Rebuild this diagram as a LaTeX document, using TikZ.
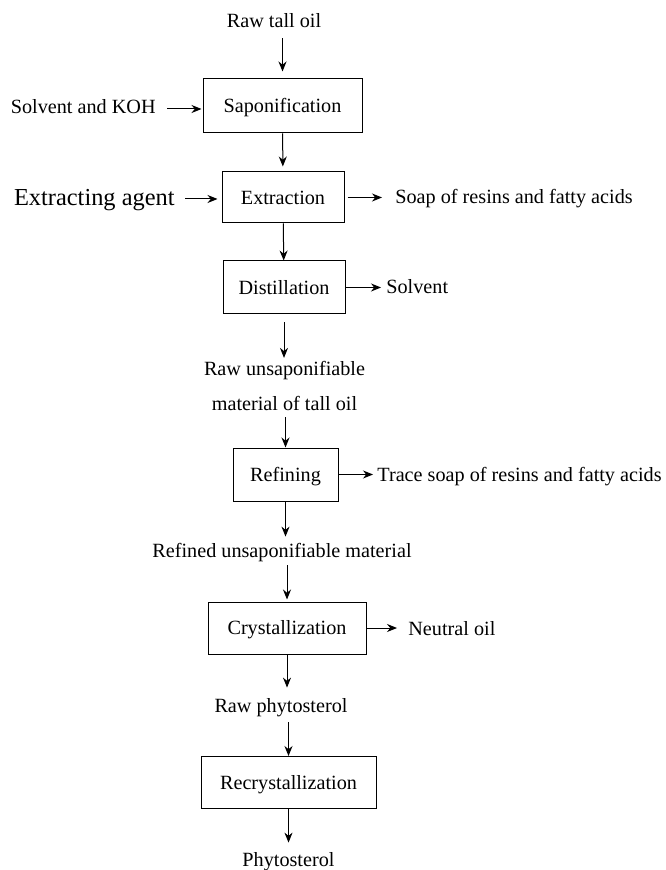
\documentclass[tikz,border=0pt]{standalone}
\usepackage{fontspec}
\setmainfont{Liberation Serif}
\usetikzlibrary{arrows.meta}
\newcommand{\flowfont}{\fontsize{10.1}{17.5}\selectfont}
\tikzstyle{stepbox} = [draw,line width=0.5pt,inner sep=0pt,text centered,text height=8pt,text depth=1.3pt,font=\flowfont]
\tikzstyle{stream} = [inner sep=0pt,text height=7pt,text depth=2pt,font=\flowfont]
\tikzstyle{flow} = [line width=0.5pt,-{Stealth[length=5pt,width=4pt]}]

\begin{document}
\begin{tikzpicture}[x=0.5pt,y=-0.5pt]
		\useasboundingbox (0,0) rectangle (665,870);
		\node [stream](oil) at (274,23){Raw tall oil};
		\node [stepbox,minimum width=79.5pt,minimum height=27pt](sap) at (282.5,106){Saponification};
		\node [stream,anchor=east](koh) at (156,109){Solvent and KOH};
		\node [stepbox,minimum width=61pt,minimum height=25.5pt](ext) at (283,197.5){Extraction};
		\node [stream,anchor=east,text height=8.5pt,text depth=2.4pt,font=\fontsize{12.2}{14}\selectfont](agent) at (175,199){Extracting agent};
		\node [stream,anchor=west](soap) at (395,199){Soap of resins and fatty acids};
		\node [stepbox,minimum width=61pt,minimum height=26.5pt](dist) at (284,287.5){Distillation};
		\node [stream,anchor=west](solv) at (386,289){Solvent};
		\node [inner sep=0pt,align=center,font=\flowfont](unsap) at (284.5,386){Raw unsaponifiable\\material of tall oil};
		\node [stepbox,minimum width=52.5pt,minimum height=26.5pt](ref) at (285.5,474.5){Refining};
		\node [stream,anchor=west](trace) at (377,476){Trace soap of resins and fatty acids};
		\node [stream](refd) at (282,552){Refined unsaponifiable material};
		\node [stepbox,minimum width=79pt,minimum height=26pt](cry) at (287,628){Crystallization};
		\node [stream,anchor=west](neut) at (408,630){Neutral oil};
		\node [stream](raw) at (281,707){Raw phytosterol};
		\node [stepbox,minimum width=87.5pt,minimum height=26pt](rec) at (288.5,782.5){Recrystallization};
		\node [stream](phy) at (288.5,861){Phytosterol};

		\draw[flow,shorten <=3pt,shorten >=3.5pt](oil.south -| sap)--(sap);
		\draw[flow,shorten <=5.5pt,shorten >=0.5pt](koh)--(koh -| sap.west);
		\draw[flow,shorten >=2.5pt](sap)--(ext);
		\draw[flow,shorten <=5pt,shorten >=2pt](agent)--(agent -| ext.west);
		\draw[flow,shorten <=1.5pt,shorten >=6.5pt](ext)--(ext -| soap.west);
		\draw[flow](ext)--(dist);
		\draw[flow,shorten >=2.5pt](dist)--(dist -| solv.west);
		\draw[flow,shorten <=4pt,shorten >=1.5pt](dist)--(dist |- unsap.north);
		\draw[flow,shorten <=3pt](unsap.south -| ref)--(ref);
		\draw[flow,shorten >=2pt](ref)--(ref -| trace.west);
		\draw[flow,shorten >=3pt](ref)--(ref |- refd.north);
		\draw[flow,shorten <=2pt,shorten >=1pt](refd.south -| cry)--(cry);
		\draw[flow,shorten >=5.5pt](cry)--(cry -| neut.west);
		\draw[flow,shorten >=5pt](cry)--(cry |- raw.north);
		\draw[flow,shorten <=3pt](raw.south -| rec)--(rec);
		\draw[flow,shorten >=4.5pt](rec)--(rec |- phy.north);
\end{tikzpicture}
\end{document}
